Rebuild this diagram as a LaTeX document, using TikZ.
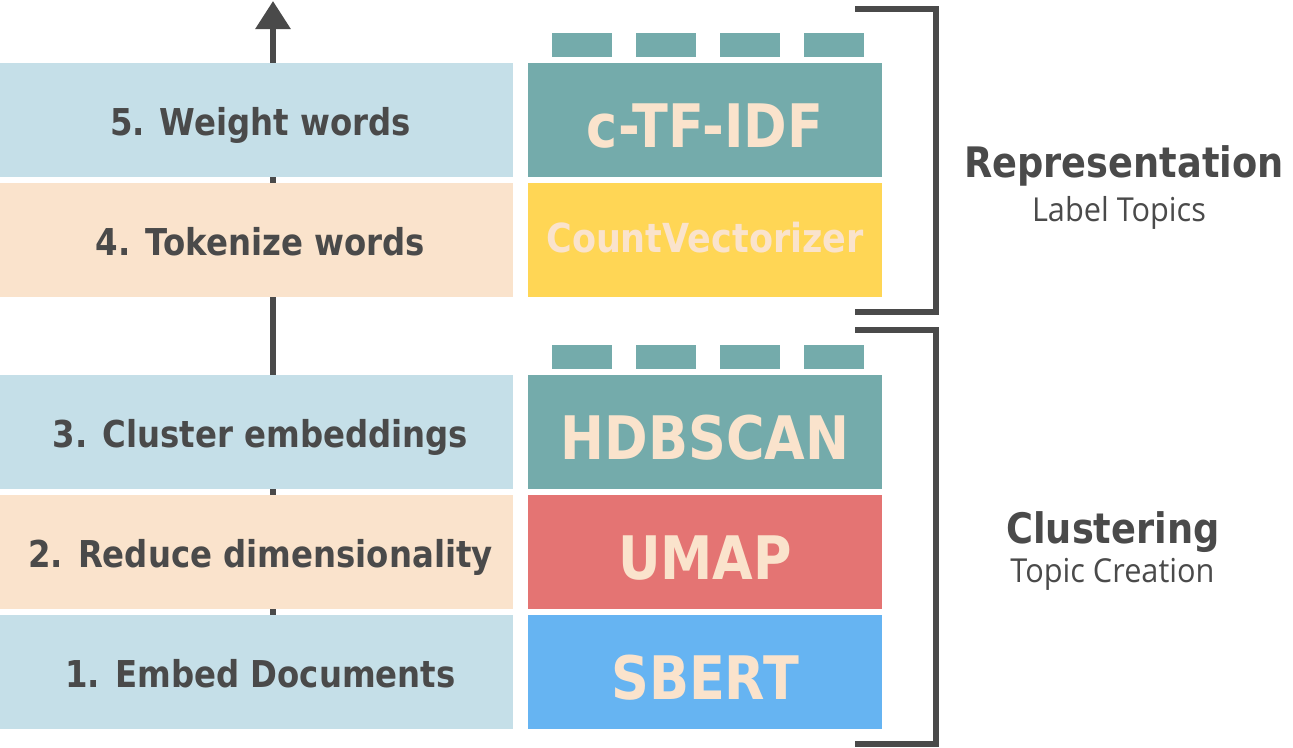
\documentclass[tikz,border=0pt]{standalone}
\usepackage{fontspec}
\usetikzlibrary{arrows.meta}
\newfontfamily\vbold[FakeStretch=0.875]{DejaVu Sans Bold}
\newfontfamily\vlight[FakeStretch=0.93]{Open Sans}
\definecolor{dk}{HTML}{4A4A4A}
\definecolor{lblue}{HTML}{C5DFE8}
\definecolor{peach}{HTML}{FAE3CC}
\definecolor{teal}{HTML}{74ABAB}
\definecolor{yel}{HTML}{FFD655}
\definecolor{red}{HTML}{E47473}
\definecolor{blu}{HTML}{66B4F2}
\tikzset{
  stepbox/.style={rectangle, inner sep=0pt, minimum width=513pt, minimum height=114pt, fill=#1},
  toolbox/.style={rectangle, inner sep=0pt, minimum width=354pt, minimum height=114pt, fill=#1},
  steptext/.style={inner sep=0pt, text=dk, font=\vbold\fontsize{37}{37}\selectfont, text height=30pt, text depth=0pt},
  tooltext/.style={inner sep=0pt, text=peach, font=\vbold\fontsize{60}{60}\selectfont, text height=54pt, text depth=0pt},
  tab/.style={rectangle, inner sep=0pt, minimum width=60pt, minimum height=24pt, fill=teal},
  brk/.style={draw=dk, line width=6pt, line join=miter},
  headtext/.style={inner sep=0pt, anchor=base, text=dk, font=\vbold\fontsize{42}{42}\selectfont},
  subtext/.style={inner sep=0pt, anchor=base, text=dk, font=\vlight\fontsize{33}{33}\selectfont},
}
\begin{document}
\begin{tikzpicture}[x=1pt,y=-1pt]
\useasboundingbox (0,0) rectangle (1293,747);
% arrow behind
\coordinate (arrbot) at (273,615);
\coordinate (arrtop) at (273,1);
\draw[dk, line width=6pt, -{Triangle[width=34pt,length=28pt]}] (arrbot) -- (arrtop);
% left boxes
\node[stepbox=lblue] (s5) at (256.5,120) {};
\node[stepbox=peach] (s4) at (256.5,240) {};
\node[stepbox=lblue] (s3) at (256.5,432) {};
\node[stepbox=peach] (s2) at (256.5,552) {};
\node[stepbox=lblue] (s1) at (256.5,672) {};
\node[steptext] (t5) at (260.5,120) {5. Weight words};
\node[steptext] (t4) at (260.5,240) {4. Tokenize words};
\node[steptext] (t3) at (260.5,432) {3. Cluster embeddings};
\node[steptext] (t2) at (260.5,552) {2. Reduce dimensionality};
\node[steptext] (t1) at (260.5,672) {1. Embed Documents};
% right boxes
\node[toolbox=teal] (r5) at (705,120) {};
\node[toolbox=yel] (r4) at (705,240) {};
\node[toolbox=teal] (r3) at (705,432) {};
\node[toolbox=red] (r2) at (705,552) {};
\node[toolbox=blu] (r1) at (705,672) {};
\node[tooltext] (u5) at (705,120) {c-TF-IDF};
\node[tooltext, font=\vbold\fontsize{40}{40}\selectfont, text height=24pt] (u4) at (705,240) {CountVectorizer};
\node[tooltext] (u3) at (705,432) {HDBSCAN};
\node[tooltext] (u2) at (705,552) {UMAP};
\node[tooltext] (u1) at (705,672) {SBERT};
% tabs
\foreach \x [count=\i] in {582,666,750,834} {
  \node[tab] (ta\i) at (\x,45) {};
  \node[tab] (tb\i) at (\x,357) {};
}
% brackets
\coordinate (b1a) at (855,9);
\coordinate (b1b) at (936,9);
\coordinate (b1c) at (936,312);
\coordinate (b1d) at (855,312);
\draw[brk] (b1a) -- (b1b) -- (b1c) -- (b1d);
\coordinate (b2a) at (855,330);
\coordinate (b2b) at (936,330);
\coordinate (b2c) at (936,744);
\coordinate (b2d) at (855,744);
\draw[brk] (b2a) -- (b2b) -- (b2c) -- (b2d);
% labels
\node[headtext] (rep) at (1124,177) {Representation};
\node[subtext] (lab) at (1119,221) {Label Topics};
\node[headtext] (clu) at (1113,543) {Clustering};
\node[subtext] (top) at (1112.5,582) {Topic Creation};
\end{tikzpicture}
\end{document}
